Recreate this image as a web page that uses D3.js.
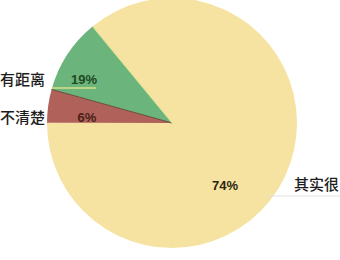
<!DOCTYPE html>
<html lang="zh">
  <head>
    <meta charset="utf-8">
    <title>Pie</title>
    <script src="https://cdnjs.cloudflare.com/ajax/libs/d3/7.8.5/d3.min.js"></script>
    <style type="text/css">
      body { margin: 0; background: #fff; }
      .cat { font-family: 'Noto Sans CJK SC', sans-serif; font-size: 15px; font-weight: 500; fill: #1e1e1e; }
      .pct { font-family: 'Liberation Sans', Arial, sans-serif; font-size: 13px; font-weight: bold; }
    </style>
  </head>
  <body>
    <svg id="chart"></svg>
    <script type="text/javascript">
// slices in drawing order (clockwise), wedge shares
var categories = ["其实很", "不清楚", "有距离"];
var shares = [86, 4.3, 9.7];
var pctLabels = ["74%", "6%", "19%"];
var colors = ["#f6e3a2", "#b0625a", "#6bb47c"];
var pctColors = ["#2b2510", "#4a1f18", "#1f4a22"];

var w = 340, h = 260;
var cx = 172, cy = 123, r = 125;

var svg = d3.select("#chart")
  .attr("width", w)
  .attr("height", h);

var pie = d3.pie()
  .sort(null)
  .startAngle(-39.5 * Math.PI / 180)
  .endAngle((360 - 39.5) * Math.PI / 180)
  .value(function(d) { return d; });

var arc = d3.arc().innerRadius(0).outerRadius(r);

var arcs = pie(shares);

var g = svg.append("g").attr("transform", "translate(" + cx + "," + cy + ")");

g.selectAll("path")
  .data(arcs)
  .enter().append("path")
  .attr("d", arc)
  .attr("fill", function(d, i) { return colors[i]; });

// dark edge between red and green wedge
var edge = arcs[1].endAngle;
g.append("line")
  .attr("x1", 0).attr("y1", 0)
  .attr("x2", r * Math.sin(edge)).attr("y2", -r * Math.cos(edge))
  .attr("stroke", "#6a4a35")
  .attr("stroke-width", 1);

// light edge between green and yellow
var edge2 = arcs[2].endAngle;
g.append("line")
  .attr("x1", 0).attr("y1", 0)
  .attr("x2", r * Math.sin(edge2)).attr("y2", -r * Math.cos(edge2))
  .attr("stroke", "#d6e08a")
  .attr("stroke-width", 1);

// percent labels
var pctPos = [[225, 190], [87, 122], [84, 84]];
svg.selectAll("text.pct")
  .data(pctLabels)
  .enter().append("text")
  .attr("class", "pct")
  .attr("x", function(d, i) { return pctPos[i][0]; })
  .attr("y", function(d, i) { return pctPos[i][1]; })
  .attr("text-anchor", "middle")
  .attr("fill", function(d, i) { return pctColors[i]; })
  .text(function(d) { return d; });

// leader lines
svg.append("line")
  .attr("x1", 52).attr("x2", 96).attr("y1", 88).attr("y2", 88)
  .attr("stroke", "#d6e08a").attr("stroke-width", 1.5);
svg.append("line")
  .attr("x1", 268).attr("x2", 340).attr("y1", 196).attr("y2", 196)
  .attr("stroke", "#e2e2e2").attr("stroke-width", 1);

// category labels
var catPos = [[294, 190], [0, 123], [0, 85]];
svg.selectAll("text.cat")
  .data(categories)
  .enter().append("text")
  .attr("class", "cat")
  .attr("x", function(d, i) { return catPos[i][0]; })
  .attr("y", function(d, i) { return catPos[i][1]; })
  .text(function(d) { return d; });
    </script>
  </body>
</html>
